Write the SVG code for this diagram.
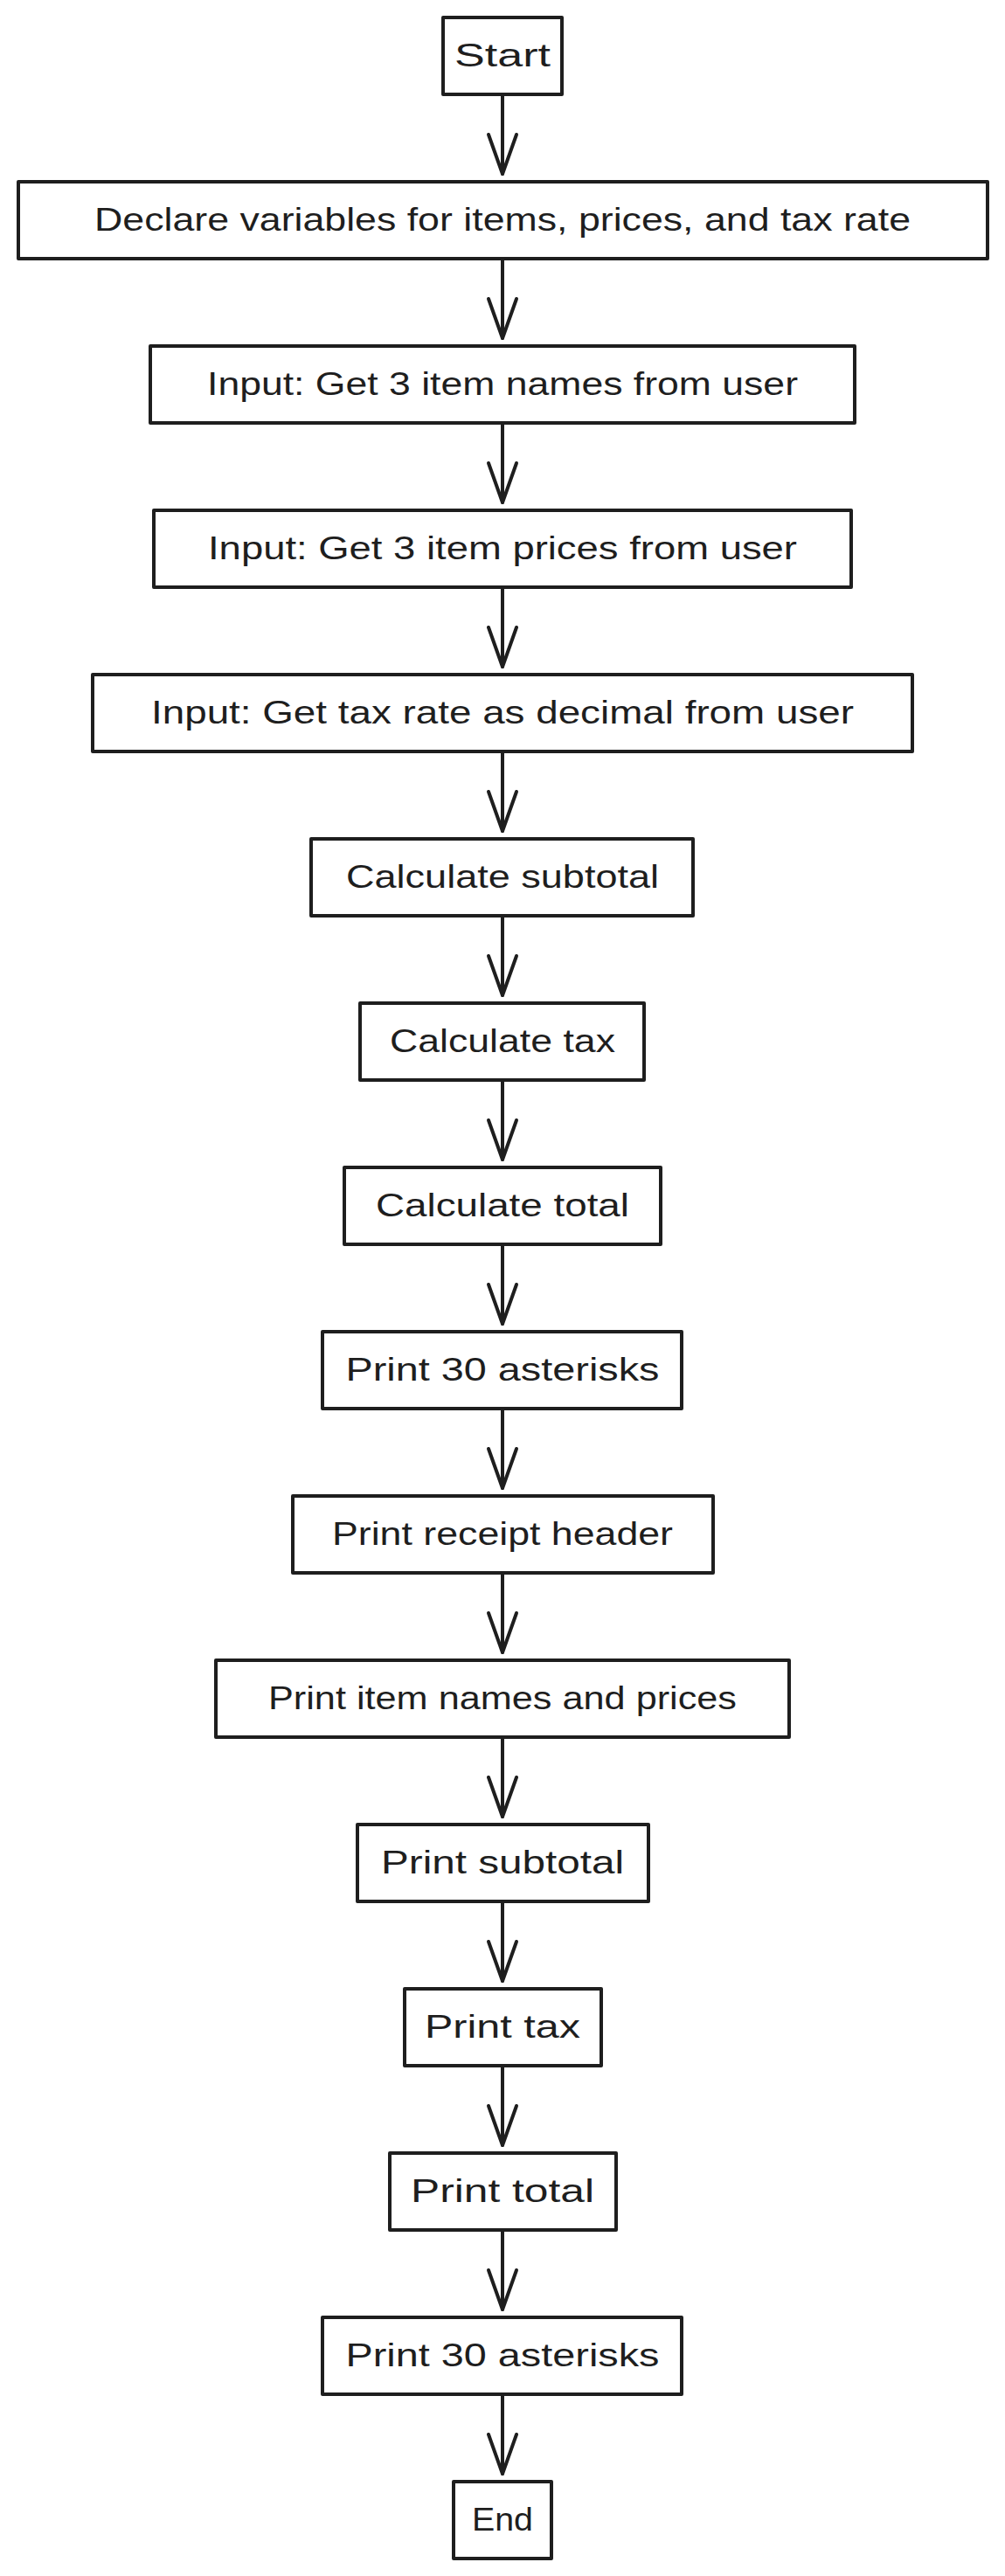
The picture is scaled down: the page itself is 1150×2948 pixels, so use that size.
<svg xmlns="http://www.w3.org/2000/svg" width="1150" height="2948" viewBox="0 0 1150 2948">
<defs>
<style>
.box{fill:#ffffff;stroke:#1e1e1e;stroke-width:4;stroke-linejoin:round}
.lbl{font-family:"Liberation Sans",Arial,sans-serif;font-size:36px;fill:#1e1e1e;text-anchor:middle}
.edge{fill:none;stroke:#1e1e1e;stroke-width:4;stroke-linecap:round}
</style>
<marker id="arr" markerUnits="userSpaceOnUse" viewBox="-50 -20 54 40" markerWidth="54" markerHeight="40" refX="0" refY="0" orient="auto">
<path d="M -45 -16 L 0 0 L -45 16" fill="none" stroke="#1e1e1e" stroke-width="4" stroke-linecap="round" stroke-linejoin="round"/>
</marker>
</defs>
<rect width="1150" height="2948" fill="#ffffff"/>
<g id="connectors">
<path class="edge" d="M575 110 L575 199" marker-end="url(#arr)"/>
<path class="edge" d="M575 298 L575 387" marker-end="url(#arr)"/>
<path class="edge" d="M575 486 L575 575" marker-end="url(#arr)"/>
<path class="edge" d="M575 674 L575 763" marker-end="url(#arr)"/>
<path class="edge" d="M575 862 L575 951" marker-end="url(#arr)"/>
<path class="edge" d="M575 1050 L575 1139" marker-end="url(#arr)"/>
<path class="edge" d="M575 1238 L575 1327" marker-end="url(#arr)"/>
<path class="edge" d="M575 1426 L575 1515" marker-end="url(#arr)"/>
<path class="edge" d="M575 1614 L575 1703" marker-end="url(#arr)"/>
<path class="edge" d="M575 1802 L575 1891" marker-end="url(#arr)"/>
<path class="edge" d="M575 1990 L575 2079" marker-end="url(#arr)"/>
<path class="edge" d="M575 2178 L575 2267" marker-end="url(#arr)"/>
<path class="edge" d="M575 2366 L575 2455" marker-end="url(#arr)"/>
<path class="edge" d="M575 2554 L575 2643" marker-end="url(#arr)"/>
<path class="edge" d="M575 2742 L575 2831" marker-end="url(#arr)"/>
</g>
<g id="n0"><rect class="box" x="507" y="20" width="136" height="88"/><text class="lbl" x="575" y="76" textLength="110" lengthAdjust="spacingAndGlyphs">Start</text></g>
<g id="n1"><rect class="box" x="21" y="208" width="1109" height="88"/><text class="lbl" x="575" y="264" textLength="934" lengthAdjust="spacingAndGlyphs">Declare variables for items, prices, and tax rate</text></g>
<g id="n2"><rect class="box" x="172" y="396" width="806" height="88"/><text class="lbl" x="575" y="452" textLength="676" lengthAdjust="spacingAndGlyphs">Input: Get 3 item names from user</text></g>
<g id="n3"><rect class="box" x="176" y="584" width="798" height="88"/><text class="lbl" x="575" y="640" textLength="674" lengthAdjust="spacingAndGlyphs">Input: Get 3 item prices from user</text></g>
<g id="n4"><rect class="box" x="106" y="772" width="938" height="88"/><text class="lbl" x="575" y="828" textLength="804" lengthAdjust="spacingAndGlyphs">Input: Get tax rate as decimal from user</text></g>
<g id="n5"><rect class="box" x="356" y="960" width="437" height="88"/><text class="lbl" x="575" y="1016" textLength="358" lengthAdjust="spacingAndGlyphs">Calculate subtotal</text></g>
<g id="n6"><rect class="box" x="412" y="1148" width="325" height="88"/><text class="lbl" x="575" y="1204" textLength="258" lengthAdjust="spacingAndGlyphs">Calculate tax</text></g>
<g id="n7"><rect class="box" x="394" y="1336" width="362" height="88"/><text class="lbl" x="575" y="1392" textLength="290" lengthAdjust="spacingAndGlyphs">Calculate total</text></g>
<g id="n8"><rect class="box" x="369" y="1524" width="411" height="88"/><text class="lbl" x="575" y="1580" textLength="359" lengthAdjust="spacingAndGlyphs">Print 30 asterisks</text></g>
<g id="n9"><rect class="box" x="335" y="1712" width="481" height="88"/><text class="lbl" x="575" y="1768" textLength="390" lengthAdjust="spacingAndGlyphs">Print receipt header</text></g>
<g id="n10"><rect class="box" x="247" y="1900" width="656" height="88"/><text class="lbl" x="575" y="1956" textLength="536" lengthAdjust="spacingAndGlyphs">Print item names and prices</text></g>
<g id="n11"><rect class="box" x="409" y="2088" width="333" height="88"/><text class="lbl" x="575" y="2144" textLength="278" lengthAdjust="spacingAndGlyphs">Print subtotal</text></g>
<g id="n12"><rect class="box" x="463" y="2276" width="225" height="88"/><text class="lbl" x="575" y="2332" textLength="178" lengthAdjust="spacingAndGlyphs">Print tax</text></g>
<g id="n13"><rect class="box" x="446" y="2464" width="259" height="88"/><text class="lbl" x="575" y="2520" textLength="210" lengthAdjust="spacingAndGlyphs">Print total</text></g>
<g id="n14"><rect class="box" x="369" y="2652" width="411" height="88"/><text class="lbl" x="575" y="2708" textLength="359" lengthAdjust="spacingAndGlyphs">Print 30 asterisks</text></g>
<g id="n15"><rect class="box" x="519" y="2840" width="112" height="88"/><text class="lbl" x="575" y="2896" textLength="70" lengthAdjust="spacingAndGlyphs">End</text></g>
</svg>
